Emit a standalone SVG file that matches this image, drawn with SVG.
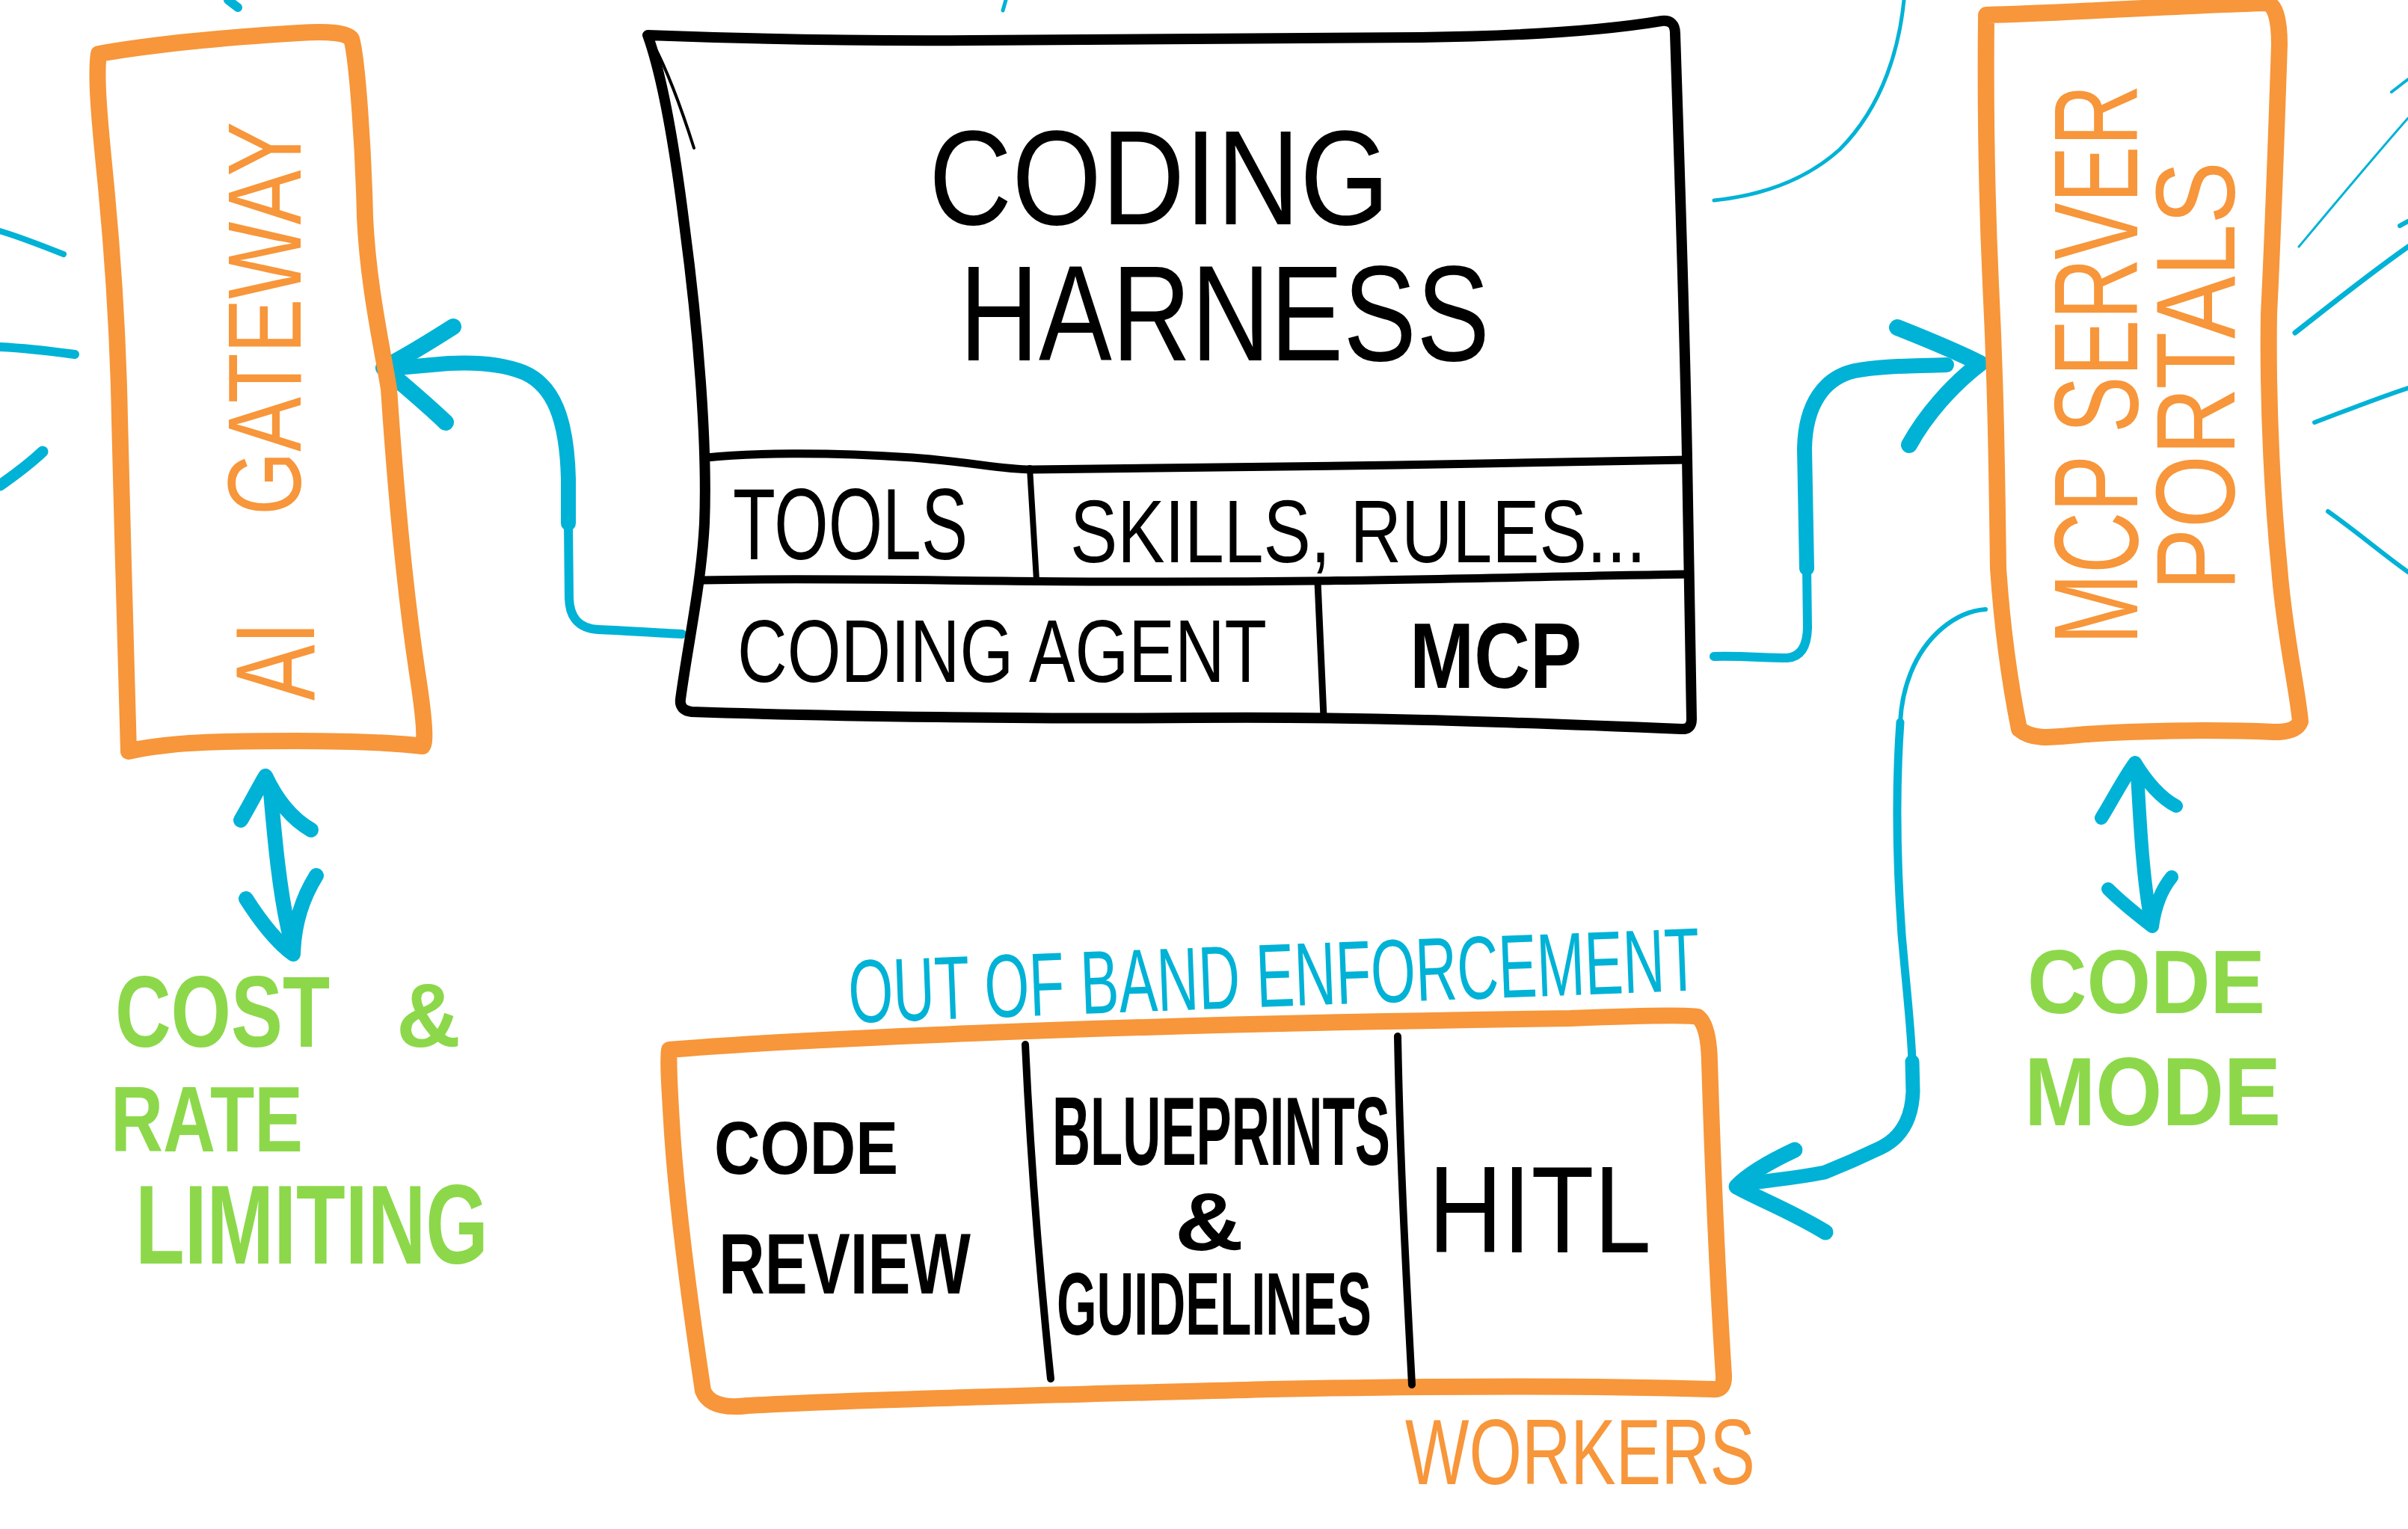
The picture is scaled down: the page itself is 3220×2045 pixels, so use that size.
<svg xmlns="http://www.w3.org/2000/svg" width="3220" height="2045" viewBox="0 0 3220 2045">
<style>
  .bg{fill:#ffffff}
  .ko{fill:none;stroke:#000;stroke-linecap:round;stroke-linejoin:round}
  .oo{fill:none;stroke:#F7963A;stroke-linecap:round;stroke-linejoin:round}
  .bo{fill:none;stroke:#00B2D6;stroke-linecap:round;stroke-linejoin:round}
  text{font-family:"Liberation Sans",Arial,sans-serif}
  .tk{fill:#000}
  .tkb{fill:#000;font-weight:bold}
  .to{fill:#F7963A}
  .tb{fill:#00B2D6}
  .tg{fill:#8CD84A;font-weight:bold}
</style>
<rect class="bg" x="0" y="0" width="3220" height="2045"/>

<g id="connectors">
  <!-- coding agent -> gateway -->
  <path class="bo" stroke-width="12" d="M 912,848 C 870,846 830,843 800,842 Q 762,840 761,800 L 760,700"/>
  <path class="bo" stroke-width="20" d="M 760,700 L 760,640 C 758,560 740,515 700,498 C 675,488 640,484 600,486 L 520,493"/>
  <path class="bo" stroke-width="22" d="M 606,437 C 570,460 540,478 513,492 C 540,515 570,540 596,565"/>
  <!-- MCP -> MCP server portals -->
  <path class="bo" stroke-width="12" d="M 2292,878 C 2330,877 2360,880 2390,880 Q 2416,878 2417,840 L 2416,760"/>
  <path class="bo" stroke-width="20" d="M 2416,760 L 2413,600 C 2414,540 2440,505 2480,496 C 2520,488 2570,490 2603,488"/>
  <path class="bo" stroke-width="22" d="M 2537,438 C 2580,455 2620,472 2648,486 C 2610,515 2575,555 2553,595"/>
  <!-- MCP server portals -> workers -->
  <path class="bo" stroke-width="6" d="M 2655,815 C 2615,818 2575,850 2555,900 C 2545,925 2542,945 2541,966"/>
  <path class="bo" stroke-width="11" d="M 2541,966 C 2535,1050 2536,1150 2543,1250 C 2550,1330 2556,1380 2557,1420"/>
  <path class="bo" stroke-width="19" d="M 2557,1420 L 2558,1460 Q 2556,1515 2515,1535 C 2490,1547 2460,1560 2440,1568 C 2400,1576 2370,1578 2345,1582"/>
  <path class="bo" stroke-width="21" d="M 2400,1538 C 2370,1552 2340,1568 2322,1587 C 2355,1605 2395,1620 2441,1648"/>
  <!-- gateway <-> cost & rate limiting -->
  <path class="bo" stroke-width="20" d="M 362,1060 C 368,1130 374,1190 385,1240 L 392,1272"/>
  <path class="bo" stroke-width="20" d="M 322,1097 C 335,1075 345,1055 355,1038 C 370,1070 390,1095 416,1110"/>
  <path class="bo" stroke-width="20" d="M 329,1202 C 350,1235 370,1260 392,1276 C 393,1235 405,1200 423,1171"/>
  <!-- MCP server portals <-> code mode -->
  <path class="bo" stroke-width="18" d="M 2858,1035 C 2862,1110 2866,1180 2877,1236"/>
  <path class="bo" stroke-width="18" d="M 2810,1094 C 2825,1070 2840,1040 2855,1020 C 2870,1045 2890,1068 2910,1078"/>
  <path class="bo" stroke-width="18" d="M 2819,1189 C 2840,1210 2860,1225 2878,1239 C 2882,1210 2890,1190 2904,1173"/>
  <!-- rays and partial lines off the frame -->
  <path class="bo" stroke-width="8" d="M 0,309 C 30,318 60,330 85,340"/>
  <path class="bo" stroke-width="12" d="M 0,464 C 40,466 70,470 100,474"/>
  <path class="bo" stroke-width="15" d="M 0,649 C 20,635 40,620 57,604"/>
  <path class="bo" stroke-width="12" d="M 305,0 L 318,10"/>
  <path class="bo" stroke-width="5" d="M 1345,0 L 1341,14"/>
  <path class="bo" stroke-width="5" d="M 2546,0 C 2540,60 2520,140 2460,200 C 2410,245 2350,262 2292,268"/>
  <path class="bo" stroke-width="4" d="M 3198,123 L 3220,106"/>
  <path class="bo" stroke-width="3" d="M 3074,330 C 3120,275 3170,215 3220,158"/>
  <path class="bo" stroke-width="6" d="M 3209,302 L 3220,296"/>
  <path class="bo" stroke-width="7" d="M 3069,445 C 3120,405 3170,365 3220,330"/>
  <path class="bo" stroke-width="6" d="M 3095,565 C 3140,548 3180,532 3220,519"/>
  <path class="bo" stroke-width="6" d="M 3113,684 C 3150,710 3185,740 3220,765"/>
</g>

<g id="gateway">
  <path class="oo" stroke-width="22" d="M 132,72 C 200,60 300,50 400,44 Q 460,40 470,52 C 478,80 486,200 488,290 C 492,380 510,460 520,520 C 528,640 540,780 558,900 Q 572,990 565,998 C 500,990 400,990 300,992 C 240,993 190,1000 172,1005 C 168,900 164,700 160,560 C 158,450 150,330 140,230 C 132,150 128,100 132,72 Z"/>
  <text class="to" transform="rotate(-90)" x="-937" y="420" font-size="150" textLength="106" lengthAdjust="spacingAndGlyphs">AI</text>
  <text class="to" transform="rotate(-90)" x="-689" y="402" font-size="140" textLength="526" lengthAdjust="spacingAndGlyphs">GATEWAY</text>
</g>

<g id="coding-harness">
  <path class="ko" stroke-width="14" d="M 866,47 C 1000,52 1150,55 1300,54 C 1500,54 1700,52 1900,50 C 2050,48 2150,40 2222,28 Q 2240,26 2240,45 C 2245,200 2252,400 2256,612 C 2258,750 2260,880 2262,962 Q 2262,976 2248,975 C 2000,965 1800,958 1600,960 C 1400,962 1100,958 925,952 Q 908,950 910,935 C 920,860 938,780 942,700 C 946,600 935,450 915,300 C 900,180 885,100 866,47 Z"/>
  <path class="ko" stroke-width="4" d="M 874,60 C 890,90 908,135 928,198"/>
  <path class="ko" stroke-width="11" d="M 945,612 C 1000,606 1100,604 1220,612 C 1300,618 1340,628 1380,628 C 1500,628 1700,624 1867,622 C 2000,620 2150,616 2256,615"/>
  <path class="ko" stroke-width="11" d="M 940,776 C 1100,772 1300,778 1500,778 C 1800,779 2000,772 2258,768"/>
  <path class="ko" stroke-width="8" d="M 1377,626 L 1386,776"/>
  <path class="ko" stroke-width="9" d="M 1762,778 L 1770,959"/>
  <text class="tk" x="1242" y="300" font-size="180" textLength="616" lengthAdjust="spacingAndGlyphs">CODING</text>
  <text class="tk" x="1283" y="482" font-size="182" textLength="709" lengthAdjust="spacingAndGlyphs">HARNESS</text>
  <text class="tk" x="980" y="748" font-size="135" textLength="314" lengthAdjust="spacingAndGlyphs">TOOLS</text>
  <text class="tk" x="1431" y="752" font-size="118" textLength="770" lengthAdjust="spacingAndGlyphs">SKILLS, RULES...</text>
  <text class="tk" x="986" y="912" font-size="118" textLength="708" lengthAdjust="spacingAndGlyphs">CODING AGENT</text>
  <text class="tkb" x="1885" y="920" font-size="125" textLength="230" lengthAdjust="spacingAndGlyphs">MCP</text>
</g>

<g id="mcp-server-portals">
  <path class="oo" stroke-width="22" d="M 2656,20 C 2750,18 2900,8 3030,4 Q 3048,6 3048,60 C 3045,150 3040,300 3034,420 C 3032,550 3040,680 3048,760 C 3055,850 3072,920 3076,965 Q 3070,980 3040,979 C 2950,975 2850,978 2790,982 C 2750,985 2720,992 2700,975 C 2685,900 2676,820 2672,760 C 2670,600 2668,500 2662,380 C 2656,250 2655,120 2656,20 Z"/>
  <text class="to" transform="rotate(-90)" x="-862" y="2858" font-size="160" textLength="749" lengthAdjust="spacingAndGlyphs">MCP SERVER</text>
  <text class="to" transform="rotate(-90)" x="-790" y="2988" font-size="150" textLength="574" lengthAdjust="spacingAndGlyphs">PORTALS</text>
</g>

<g id="workers">
  <path class="oo" stroke-width="22" d="M 895,1404 C 1000,1395 1150,1388 1300,1382 C 1500,1374 1800,1366 2100,1362 Q 2250,1356 2270,1360 Q 2285,1370 2286,1420 C 2290,1550 2296,1700 2305,1840 Q 2306,1860 2290,1858 C 2100,1852 1900,1854 1700,1858 C 1400,1866 1150,1872 1000,1880 Q 950,1886 940,1860 C 925,1760 905,1620 898,1500 C 895,1450 893,1420 895,1404 Z"/>
  <path class="ko" stroke-width="10" d="M 1371,1397 C 1378,1550 1390,1700 1405,1844"/>
  <path class="ko" stroke-width="10" d="M 1869,1386 C 1872,1550 1880,1700 1888,1852"/>
  <text class="tkb" x="955" y="1570" font-size="100" textLength="246" lengthAdjust="spacingAndGlyphs">CODE</text>
  <text class="tkb" x="961" y="1730" font-size="115" textLength="337" lengthAdjust="spacingAndGlyphs">REVIEW</text>
  <text class="tkb" x="1407" y="1558" font-size="130" textLength="452" lengthAdjust="spacingAndGlyphs">BLUEPRINTS</text>
  <text class="tkb" x="1571" y="1672" font-size="110" textLength="92" lengthAdjust="spacingAndGlyphs">&amp;</text>
  <text class="tkb" x="1413" y="1785" font-size="118" textLength="421" lengthAdjust="spacingAndGlyphs">GUIDELINES</text>
  <text class="tk" x="1910" y="1675" font-size="165" textLength="298" lengthAdjust="spacingAndGlyphs">HITL</text>
  <text class="to" x="1879" y="1985" font-size="125" textLength="468" lengthAdjust="spacingAndGlyphs">WORKERS</text>
</g>

<g id="out-of-band-enforcement">
  <text class="tb" transform="rotate(-2.2 1136 1368)" x="1136" y="1368" font-size="120" textLength="1139" lengthAdjust="spacingAndGlyphs">OUT OF BAND ENFORCEMENT</text>
</g>

<g id="cost-rate-limiting">
  <text class="tg" x="154" y="1400" font-size="135" textLength="287" lengthAdjust="spacingAndGlyphs">COST</text>
  <text class="tg" x="530" y="1400" font-size="120" textLength="86" lengthAdjust="spacingAndGlyphs">&amp;</text>
  <text class="tg" x="148" y="1540" font-size="125" textLength="257" lengthAdjust="spacingAndGlyphs">RATE</text>
  <text class="tg" x="181" y="1690" font-size="150" textLength="472" lengthAdjust="spacingAndGlyphs">LIMITING</text>
</g>

<g id="code-mode">
  <text class="tg" x="2711" y="1355" font-size="120" textLength="318" lengthAdjust="spacingAndGlyphs">CODE</text>
  <text class="tg" x="2707" y="1505" font-size="130" textLength="343" lengthAdjust="spacingAndGlyphs">MODE</text>
</g>
</svg>
